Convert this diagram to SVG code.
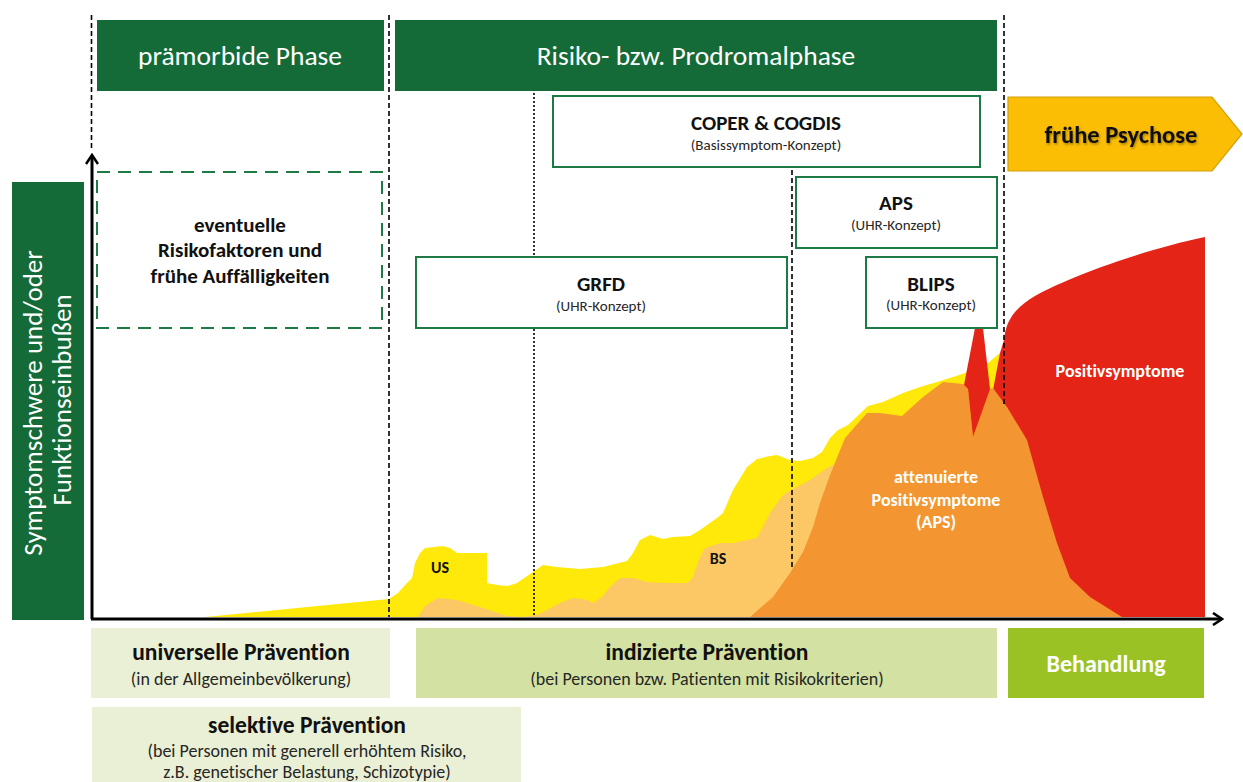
<svg xmlns="http://www.w3.org/2000/svg" width="1243" height="782" viewBox="0 0 1243 782">
<defs>
<style>
text{font-family:Carlito,Lato,"Liberation Sans",sans-serif;font-variant-ligatures:none;}
.hdr{fill:#146B38;}
.hdrt{fill:#fff;font-size:27.5px;text-anchor:middle;}
.box{fill:#fff;stroke:#1E7A45;stroke-width:2;}
.t{fill:#111;font-weight:bold;font-size:21px;text-anchor:middle;}
.s{fill:#262626;font-size:15px;text-anchor:middle;}
.bt{fill:#111;font-weight:bold;font-size:23.5px;text-anchor:middle;}
.bs{fill:#262626;font-size:18px;text-anchor:middle;}
.wl{fill:#fff;font-weight:bold;font-size:18px;text-anchor:middle;}
.vl{fill:none;stroke:#000;stroke-width:1.6;stroke-dasharray:5 3;}
.dl{fill:none;stroke:#000;stroke-width:1.6;stroke-dasharray:2 2;}
.ax{fill:none;stroke:#000;stroke-width:3;}
</style>
<marker id="arr" viewBox="0 0 12 14" refX="10" refY="7" markerWidth="12" markerHeight="14" markerUnits="userSpaceOnUse" orient="auto">
<path d="M1,1 L10,7 L1,13" fill="none" stroke="#000" stroke-width="2.6"/>
</marker>
<filter id="sh" x="-10%" y="-30%" width="120%" height="160%">
<feDropShadow dx="1" dy="1.5" stdDeviation="1" flood-color="#000" flood-opacity="0.35"/>
</filter>
</defs>
<rect width="1243" height="782" fill="#fff"/>

<g id="areas">
<path d="M205,617 L389,599 L398,593 L407,583 L412,578 L415,563 L420,553 L425,548 L443,546 L450,548 L457,553 L487,553 L487,583 L497,585 L508,586 L517,583 L533,572 L543,565 L557,567 L580,569 L603,567 L627,561 L633,553 L640,540 L650,535 L663,539 L673,537 L690,536 L700,530 L717,518 L723,513 L733,490 L747,467 L757,459 L770,456 L777,455 L790,460 L800,461 L813,458 L822,452 L830,438 L838,430 L848,425 L868,406 L883,402 L903,393 L920,387 L937,382 L953,377 L965,373 L988,363 L1000,353 L1004,400 L1004,617 Z" fill="#FFE90A"/>
<path d="M418,617 L425,606 L438,598 L457,600 L480,607 L507,616 L523,617 L537,615 L547,610 L560,603 L573,598 L587,600 L593,603 L602,597 L610,587 L620,578 L633,578 L647,582 L667,583 L687,583 L692,579 L700,557 L705,548 L720,543 L733,543 L757,538 L770,513 L783,495 L793,489 L810,480 L827,468 L840,462 L860,455 L860,617 Z" fill="#FCC865"/>
<path d="M1205,237 C1150,248 1070,276 1035,296 C1015,308 1006,320 1004,340 L1000,353 L993,390 L1000,617 L1205,617 Z" fill="#E32417"/>
<path d="M750,617 L773,597 L790,573 L803,552 L813,527 L820,503 L830,475 L845,438 L867,413 L880,413 L902,416 L923,397 L943,382 L963,384 L968,389 L973,437 L989,389 L993,388 L1007,407 L1027,440 L1043,497 L1057,543 L1070,578 L1090,597 L1122,617 Z" fill="#F39530"/>
<path d="M964,385 L975,328 L983,328 L990,389 L973,437 L968,389 Z" fill="#E32417"/>
<text x="440" y="573" style="fill:#111;font-weight:bold;font-size:16px;text-anchor:middle">US</text>
<text x="718" y="564" style="fill:#111;font-weight:bold;font-size:16px;text-anchor:middle">BS</text>
<text class="wl" x="936" y="483">attenuierte</text>
<text class="wl" x="936" y="506">Positivsymptome</text>
<text class="wl" x="936" y="528">(APS)</text>
<text class="wl" x="1120" y="377">Positivsymptome</text>
</g>

<g id="connectors">
<line class="vl" x1="91.5" y1="15" x2="91.5" y2="150"/>
<line class="vl" x1="389" y1="15" x2="389" y2="617"/>
<line class="vl" x1="1004" y1="15" x2="1004" y2="407"/>
<line class="vl" x1="792" y1="170" x2="792" y2="570"/>
<line class="dl" x1="534" y1="93" x2="534" y2="617"/>
<path class="ax" d="M92,619 L92,155" marker-end="url(#arr)"/>
<path class="ax" d="M91,619 L1222,619" marker-end="url(#arr)"/>
</g>

<g id="phase-premorbid">
<rect class="hdr" x="97" y="20" width="287" height="71"/>
<text class="hdrt" x="240" y="65">prämorbide Phase</text>
</g>
<g id="phase-prodromal">
<rect class="hdr" x="395" y="20" width="602" height="71"/>
<text class="hdrt" x="696" y="65">Risiko- bzw. Prodromalphase</text>
</g>
<g id="fruehe-psychose">
<path d="M1008,97 L1212,97 L1242,134 L1212,171 L1008,171 Z" fill="#FBBE04" stroke="#D2A00A" stroke-width="1.2"/>
<text x="1121" y="143" style="fill:#111;font-weight:bold;font-size:24.5px;text-anchor:middle" filter="url(#sh)">frühe Psychose</text>
</g>
<g id="y-label">
<rect x="12" y="182" width="72" height="438" fill="#146B38"/>
<text transform="translate(42,403) rotate(-90)" style="fill:#fff;font-size:27px;text-anchor:middle">Symptomschwere und/oder</text>
<text transform="translate(71,400) rotate(-90)" style="fill:#fff;font-size:27px;text-anchor:middle">Funktionseinbußen</text>
</g>
<g id="risikofaktoren">
<rect x="97" y="172" width="285" height="156" fill="#fff" stroke="#1E7A45" stroke-width="2" stroke-dasharray="13 8"/>
<text class="t" x="240" y="232">eventuelle</text>
<text class="t" x="240" y="257">Risikofaktoren und</text>
<text class="t" x="240" y="283">frühe Auffälligkeiten</text>
</g>
<g id="coper">
<rect class="box" x="553" y="96" width="427" height="71"/>
<text class="t" x="766" y="130">COPER &amp; COGDIS</text>
<text class="s" x="766" y="150">(Basissymptom-Konzept)</text>
</g>
<g id="aps">
<rect class="box" x="796" y="177" width="201" height="71"/>
<text class="t" x="896" y="210">APS</text>
<text class="s" x="896" y="230">(UHR-Konzept)</text>
</g>
<g id="grfd">
<rect class="box" x="416" y="257" width="371" height="71"/>
<text class="t" x="601" y="291">GRFD</text>
<text class="s" x="601" y="311">(UHR-Konzept)</text>
</g>
<g id="blips">
<rect class="box" x="866" y="257" width="131" height="71"/>
<text class="t" x="931" y="291">BLIPS</text>
<text class="s" x="931" y="310">(UHR-Konzept)</text>
</g>
<g id="universell">
<rect x="91" y="628" width="299" height="70" fill="#EAF0D5"/>
<text class="bt" x="241" y="660">universelle Prävention</text>
<text class="bs" x="241" y="685">(in der Allgemeinbevölkerung)</text>
</g>
<g id="indiziert">
<rect x="416" y="628" width="581" height="70" fill="#D3E2A2"/>
<text class="bt" x="707" y="660">indizierte Prävention</text>
<text class="bs" x="707" y="685">(bei Personen bzw. Patienten mit Risikokriterien)</text>
</g>
<g id="behandlung">
<rect x="1008" y="628" width="196" height="70" fill="#9BC224"/>
<text x="1106" y="672" style="fill:#fff;font-weight:bold;font-size:24px;text-anchor:middle">Behandlung</text>
</g>
<g id="selektiv">
<rect x="92" y="707" width="429" height="75" fill="#EAF0D5"/>
<text class="bt" x="307" y="733">selektive Prävention</text>
<text class="bs" x="307" y="757">(bei Personen mit generell erhöhtem Risiko,</text>
<text class="bs" x="307" y="778">z.B. genetischer Belastung, Schizotypie)</text>
</g>
</svg>
